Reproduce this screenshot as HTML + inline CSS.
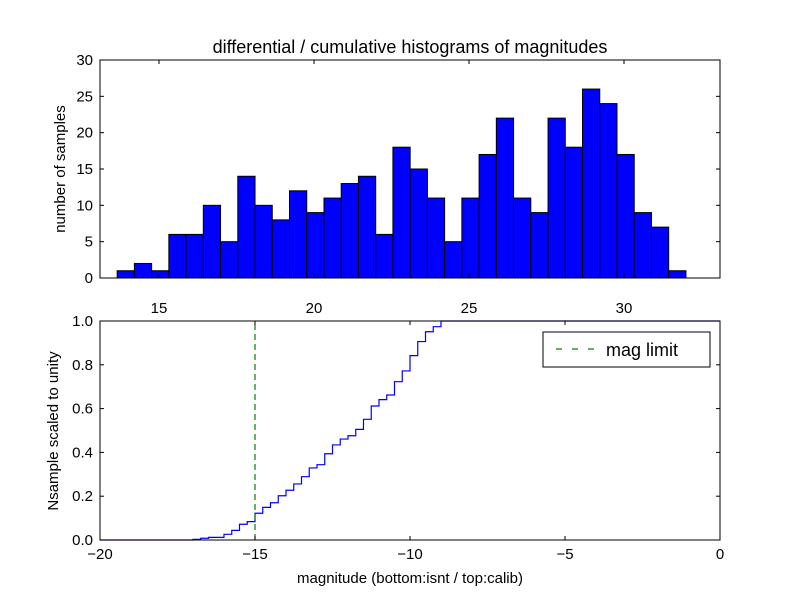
<!DOCTYPE html>
<html><head><meta charset="utf-8">
<style>
html,body{margin:0;padding:0;background:#fff;}
svg text{font-family:"Liberation Sans","DejaVu Sans",sans-serif;fill:#000;}
</style></head>
<body>
<svg id="chart" width="800" height="600" xmlns="http://www.w3.org/2000/svg">
<rect width="800" height="600" fill="#fff"/>
<text x="410" y="53" font-size="18" text-anchor="middle">differential / cumulative histograms of magnitudes</text>
<g id="topPanel"></g>
<g id="botPanel"></g>
</svg>
<script>
// top histogram data
const histCounts = [1,2,1,6,6,10,5,14,10,8,12,9,11,13,14,6,18,15,11,5,11,17,22,11,9,22,18,26,24,17,9,7,1];
const histStart = 13.65;
const histBinWidth = 0.556;
const topXTicks = [15,20,25,30];
const topYTicks = [0,5,10,15,20,25,30];
// bottom cumulative data
const cumEdges = [-17,-16.75,-16.5,-16.25,-16,-15.75,-15.5,-15.25,-15,-14.75,-14.5,-14.25,-14,-13.75,-13.5,-13.25,-13,-12.75,-12.5,-12.25,-12,-11.75,-11.5,-11.25,-11,-10.75,-10.5,-10.25,-10,-9.75,-9.5,-9.25,-9];
const cumValues = [0.003,0.008,0.012,0.012,0.026,0.044,0.072,0.084,0.122,0.149,0.170,0.202,0.227,0.256,0.289,0.329,0.344,0.394,0.434,0.461,0.476,0.505,0.551,0.612,0.641,0.662,0.723,0.772,0.842,0.906,0.951,0.974,1.0];
const botXTicks = [-20,-15,-10,-5,0];
const botYTicks = [0,0.2,0.4,0.6,0.8,1.0];
const magLimit = -15;

const NS="http://www.w3.org/2000/svg";
function mk(parent,tag,attrs){const e=document.createElementNS(NS,tag);for(const k in attrs)e.setAttribute(k,attrs[k]);parent.appendChild(e);return e;}
const L=100,R=720;
// top axes
const tx=v=>L+(v-13.097)*31, ty=v=>278-v*(218/30);
const topG=document.getElementById('topPanel');
histCounts.forEach((c,i)=>{
  const x0=tx(histStart+i*histBinWidth), x1=tx(histStart+(i+1)*histBinWidth);
  const r=mk(topG,'rect',{x:x0,y:ty(c),width:x1-x0,height:ty(0)-ty(c),fill:'#0000ff',stroke:'#000','stroke-width':1});
  
  
});
let f=mk(topG,'rect',{x:L,y:60,width:R-L,height:218,fill:'none',stroke:'#000','stroke-width':1});


topXTicks.forEach(t=>{const x=tx(t);
  mk(topG,'line',{x1:x,x2:x,y1:278,y2:274,stroke:'#000'});mk(topG,'line',{x1:x,x2:x,y1:60,y2:64,stroke:'#000'});
  const e=mk(topG,'text',{x:x,y:313,'font-size':15,'text-anchor':'middle'});e.textContent=t;
  
  });
topYTicks.forEach(t=>{const y=ty(t);
  mk(topG,'line',{x1:L,x2:L+4,y1:y,y2:y,stroke:'#000'});mk(topG,'line',{x1:R,x2:R-4,y1:y,y2:y,stroke:'#000'});
  const e=mk(topG,'text',{x:93,y:y+5,'font-size':15,'text-anchor':'end'});e.textContent=t;
  
  });
let yl=mk(topG,'text',{x:0,y:0,'font-size':15,'text-anchor':'middle',transform:'translate(65,169) rotate(-90)'});yl.textContent='number of samples';



// bottom axes
const bx=v=>L+(v+20)*31, by=v=>540-v*219;
const botG=document.getElementById('botPanel');
let d='M'+bx(-20)+','+by(0)+' L'+bx(cumEdges[0])+','+by(0);
cumEdges.forEach((e,i)=>{const nx=i+1<cumEdges.length?cumEdges[i+1]:0;
  d+=' L'+bx(e)+','+by(cumValues[i])+' L'+bx(nx)+','+by(cumValues[i]);});
let p=mk(botG,'path',{d:d,fill:'none',stroke:'#0000ff','stroke-width':1.2});


let ml=mk(botG,'line',{x1:bx(magLimit),x2:bx(magLimit),y1:by(0),y2:by(1),stroke:'#008000','stroke-width':1.2,'stroke-dasharray':'6,4'});


f=mk(botG,'rect',{x:L,y:321,width:R-L,height:219,fill:'none',stroke:'#000','stroke-width':1});


botXTicks.forEach(t=>{const x=bx(t);
  mk(botG,'line',{x1:x,x2:x,y1:540,y2:536,stroke:'#000'});mk(botG,'line',{x1:x,x2:x,y1:321,y2:325,stroke:'#000'});
  const e=mk(botG,'text',{x:x,y:559,'font-size':15,'text-anchor':'middle'});e.textContent=(t<0?'\u2212'+(-t):t);
  
  });
botYTicks.forEach(t=>{const y=by(t);
  mk(botG,'line',{x1:L,x2:L+4,y1:y,y2:y,stroke:'#000'});mk(botG,'line',{x1:R,x2:R-4,y1:y,y2:y,stroke:'#000'});
  const e=mk(botG,'text',{x:93,y:y+5,'font-size':15,'text-anchor':'end'});e.textContent=t.toFixed(1);
  
  });
yl=mk(botG,'text',{x:0,y:0,'font-size':15,'text-anchor':'middle',transform:'translate(58,431) rotate(-90)'});yl.textContent='Nsample scaled to unity';


let xl=mk(botG,'text',{x:410,y:583,'font-size':15,'text-anchor':'middle'});xl.textContent='magnitude (bottom:isnt / top:calib)';


// legend
const lg=mk(botG,'g',{});


mk(lg,'rect',{x:543,y:332,width:167,height:35,fill:'#fff',stroke:'#000'});
mk(lg,'line',{x1:556,x2:596,y1:349,y2:349,stroke:'#008000','stroke-width':1.2,'stroke-dasharray':'6,10'});
let lt=mk(lg,'text',{x:606,y:356,'font-size':18});lt.textContent='mag limit';


</script>
</body></html>
